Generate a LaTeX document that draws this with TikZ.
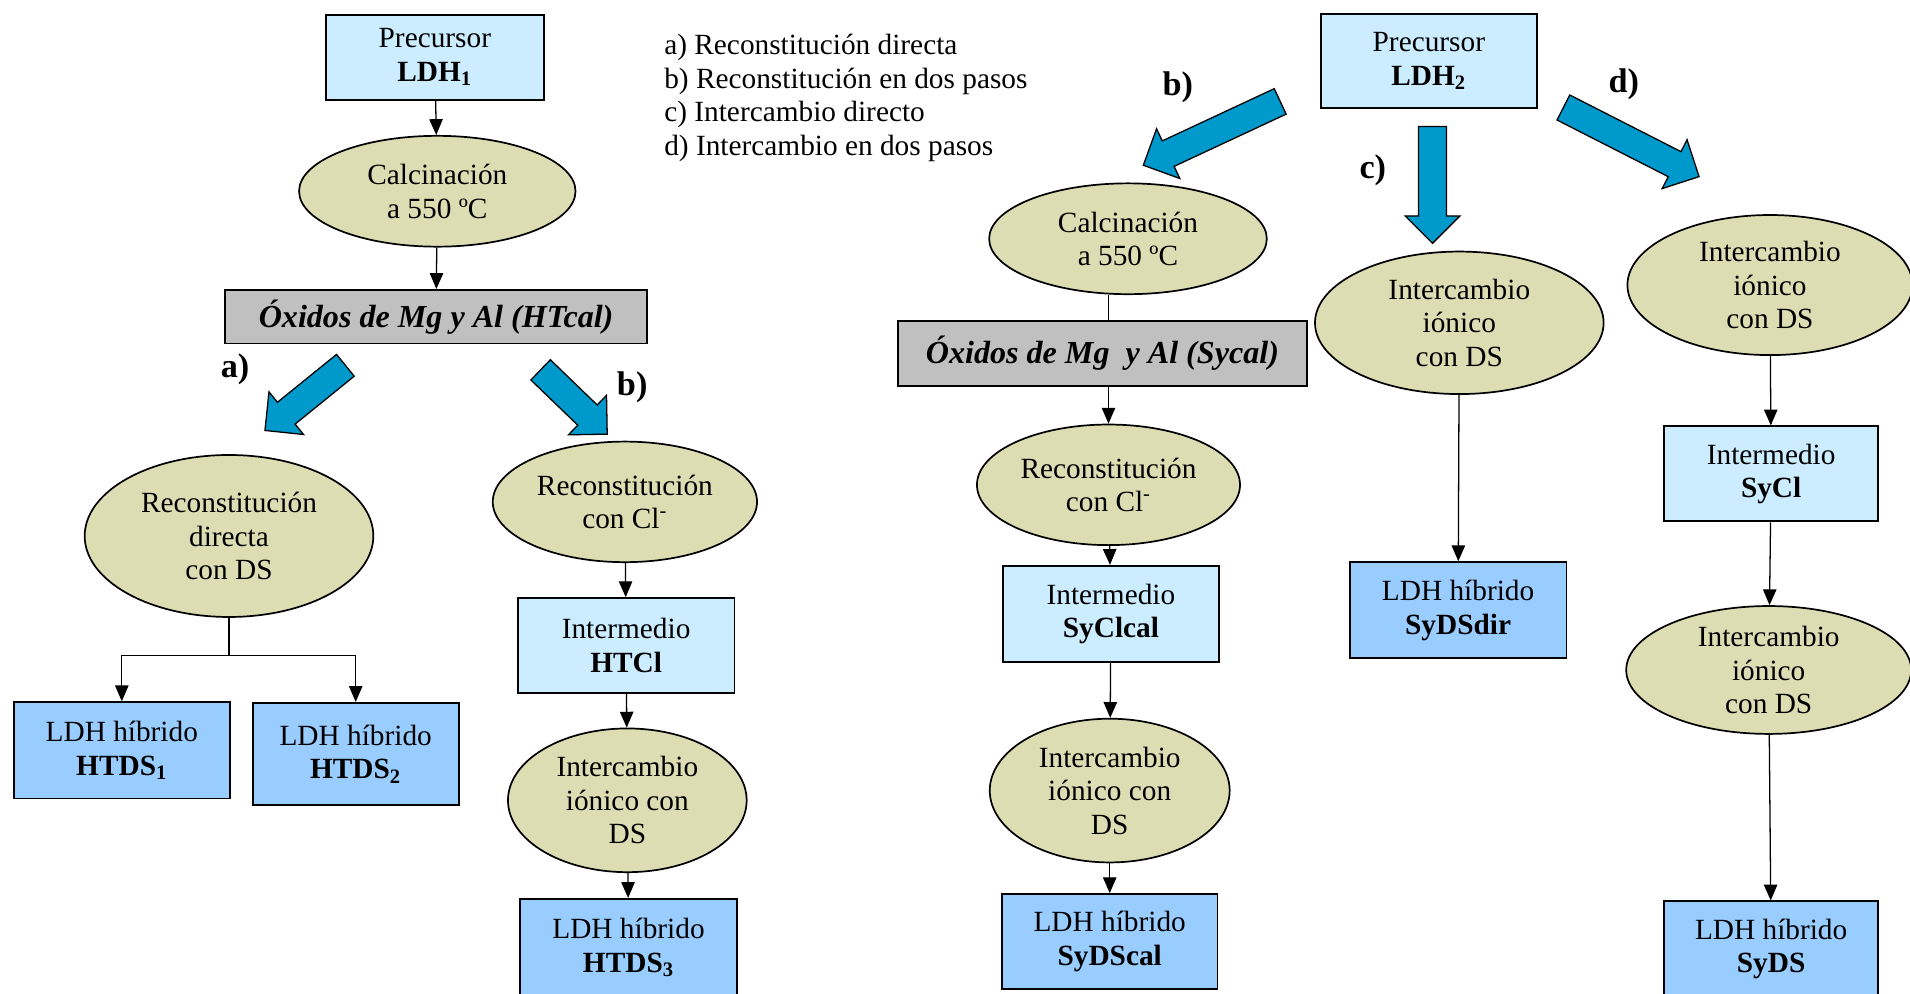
\documentclass[tikz,border=0pt]{standalone}
\usepackage{fontspec}
\setmainfont{Liberation Serif}
\usepackage{tikz}
\usetikzlibrary{arrows.meta, shapes.geometric, shapes.arrows, positioning}
\definecolor{khaki}{RGB}{221, 221, 180}
\definecolor{paleblue}{RGB}{204, 236, 255}
\definecolor{skyblue}{RGB}{153, 204, 255}
\definecolor{oxgray}{RGB}{192, 192, 192}
\definecolor{cerulean}{RGB}{0, 153, 204}

\begin{document}
\begin{tikzpicture}[
  x=0.02cm, y=-0.02cm,
  font=\fontsize{13.7}{15.7}\selectfont,
  proc/.style={ellipse, draw, fill=khaki, line width=0.8pt, inner sep=0pt, align=center},
  prec/.style={rectangle, draw, fill=paleblue, line width=0.9pt, inner sep=0pt, align=center},
  hyb/.style={rectangle, draw, fill=skyblue, line width=0.9pt, inner sep=0pt, align=center},
  oxid/.style={rectangle, draw, fill=oxgray, line width=0.9pt, inner sep=0pt, font=\fontsize{15}{17}\selectfont\bfseries\itshape},
  arr/.style={-{Triangle[length=0.26cm, width=0.22cm]}, line width=0.6pt},
  bigarr/.style={single arrow, draw, fill=cerulean, line width=0.6pt, inner sep=0.22cm,
    minimum width=0.88cm, single arrow head extend=0.22cm},
  lbl/.style={font=\fontsize{16}{18}\selectfont\bfseries}
]
  \useasboundingbox (0,0) rectangle (1568,816);

  % legend
  \node[anchor=west, align=left, inner sep=0pt] (legend) at (545,80.5)
      {a) Reconstitución directa\\b) Reconstitución en dos pasos\\c) Intercambio directo\\d) Intercambio en dos pasos};

  % LDH1 route
  \node[prec, minimum width=3.58cm, minimum height=1.40cm] (p1) at (357,47) {Precursor\\\textbf{LDH\textsubscript{1}}};
  \node[proc, minimum width=4.54cm, minimum height=1.82cm] (calc1) at (359,157) {Calcinación\\a 550 ºC};
  \node[oxid, minimum width=6.94cm, minimum height=0.88cm] (ox1) at (358,260) {Óxidos de Mg y Al (HTcal)};
  \node[proc, minimum width=4.74cm, minimum height=2.66cm] (recdir) at (188,440) {Reconstitución\\directa\\con DS};
  \node[hyb, minimum width=3.54cm, minimum height=1.58cm] (htds1) at (100,616) {LDH híbrido\\\textbf{HTDS\textsubscript{1}}};
  \node[hyb, minimum width=3.38cm, minimum height=1.68cm] (htds2) at (292,619) {LDH híbrido\\\textbf{HTDS\textsubscript{2}}};
  \node[proc, minimum width=4.34cm, minimum height=1.98cm] (reccl1) at (513,412) {Reconstitución\\con Cl\textsuperscript{-}};
  \node[prec, minimum width=3.56cm, minimum height=1.56cm] (htcl) at (514,530) {Intermedio\\\textbf{HTCl}};
  \node[proc, minimum width=3.92cm, minimum height=2.36cm] (int1) at (515,657) {Intercambio\\iónico con\\DS};
  \node[hyb, minimum width=3.56cm, minimum height=1.60cm] (htds3) at (516,778) {LDH híbrido\\\textbf{HTDS\textsubscript{3}}};

  \node[bigarr, minimum height=1.70cm, rotate=219] (arra) at (255,323) {};
  \node[bigarr, minimum height=1.52cm, rotate=-44] (arrb1) at (467,326) {};
  \node[lbl] (la) at (193,303) {a)};
  \node[lbl] (lb1) at (519,318) {b)};

  \draw[arr] (p1) -- (calc1);
  \draw[arr] (calc1) -- (ox1);
  \coordinate (split1) at (188,538);
  \draw[line width=0.6pt] (recdir.south) -- (split1);
  \draw[arr] (split1) -| (htds1.north);
  \draw[arr] (split1) -| (htds2.north);
  \draw[arr] (reccl1) -- (htcl);
  \draw[arr] (htcl) -- (int1);
  \draw[arr] (int1) -- (htds3);

  % LDH2 routes
  \node[prec, minimum width=3.54cm, minimum height=1.54cm] (p2) at (1173,50) {Precursor\\\textbf{LDH\textsubscript{2}}};
  \node[proc, minimum width=4.56cm, minimum height=1.82cm] (calc2) at (926,196) {Calcinación\\a 550 ºC};
  \node[oxid, minimum width=6.72cm, minimum height=1.06cm] (ox2) at (905,290) {Óxidos de Mg\ \ y Al (Sycal)};
  \node[proc, minimum width=4.32cm, minimum height=1.98cm] (reccl2) at (910,398) {Reconstitución\\con Cl\textsuperscript{-}};
  \node[prec, minimum width=3.54cm, minimum height=1.58cm] (syclcal) at (912,504) {Intermedio\\\textbf{SyClcal}};
  \node[proc, minimum width=3.94cm, minimum height=2.36cm] (int2) at (911,649) {Intercambio\\iónico con\\DS};
  \node[hyb, minimum width=3.54cm, minimum height=1.56cm] (sydscal) at (911,773) {LDH híbrido\\\textbf{SyDScal}};
  \node[proc, minimum width=4.74cm, minimum height=2.34cm] (int3) at (1198,265) {Intercambio\\iónico\\con DS};
  \node[hyb, minimum width=3.56cm, minimum height=1.58cm] (sydsdir) at (1197,501) {LDH híbrido\\\textbf{SyDSdir}};
  \node[proc, minimum width=4.68cm, minimum height=2.30cm] (int4) at (1453,234) {Intercambio\\iónico\\con DS};
  \node[prec, minimum width=3.52cm, minimum height=1.56cm] (sycl) at (1454,389) {Intermedio\\\textbf{SyCl}};
  \node[proc, minimum width=4.68cm, minimum height=2.10cm] (int5) at (1452,550) {Intercambio\\iónico\\con DS};
  \node[hyb, minimum width=3.52cm, minimum height=1.56cm] (syds) at (1454,779) {LDH híbrido\\\textbf{SyDS}};

  \node[bigarr, minimum height=2.48cm, rotate=205] (arrb2) at (1000,107) {};
  \node[bigarr, minimum height=1.92cm, rotate=-90] (arrc) at (1176,146) {};
  \node[bigarr, minimum height=2.50cm, rotate=-27] (arrd) at (1334,114) {};
  \node[lbl] (lb2) at (967,72) {b)};
  \node[lbl] (lc) at (1127,140) {c)};
  \node[lbl] (ld) at (1333,69) {d)};

  \draw[line width=0.6pt] (calc2.south -| reccl2.north) -- (ox2.north -| reccl2.north);
  \draw[arr] (ox2.south -| reccl2.north) -- (reccl2.north);
  \draw[arr] (reccl2) -- (syclcal);
  \draw[arr] (syclcal) -- (int2);
  \draw[arr] (int2) -- (sydscal);
  \draw[arr] (int3) -- (sydsdir);
  \draw[arr] (int4) -- (sycl);
  \draw[arr] (sycl) -- (int5);
  \draw[arr] (int5) -- (syds);
\end{tikzpicture}
\end{document}
